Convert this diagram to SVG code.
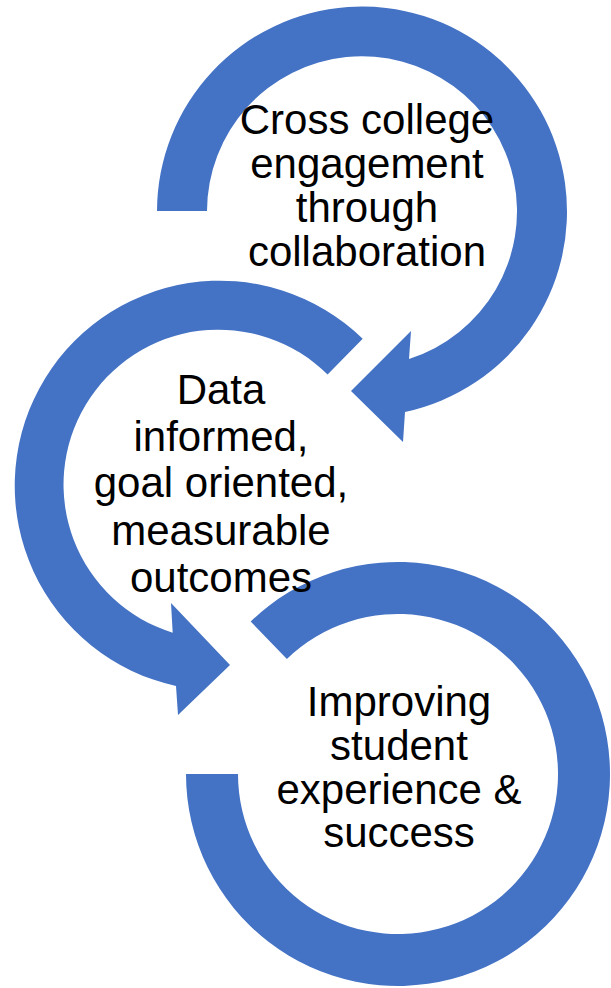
<svg xmlns="http://www.w3.org/2000/svg" width="611" height="988" viewBox="0 0 611 988">
<style>
.arr{fill:#4472C4;stroke:none}
.lbl{font-family:"Liberation Sans",Arial,sans-serif;font-size:42px;fill:#000;text-anchor:middle}
</style>
<rect width="611" height="988" fill="#fff"/>
<g id="connectors"></g>
<g id="node3">
<path class="arr" d="M 250.7 621.5 A 212 212 0 1 1 186 774 L 238 774 A 160 160 0 1 0 286.9 658.9 Z"/>
<text class="lbl" x="399" y="716">Improving</text>
<text class="lbl" x="399" y="760">student</text>
<text class="lbl" x="399" y="804">experience &amp;</text>
<text class="lbl" x="399" y="847">success</text>
</g>
<g id="node2">
<path class="arr" d="M 362.7 338.8 A 205 205 0 1 0 176 686 L 178 715 L 230 665 L 171 603 L 172.7 632.7 A 155 155 0 1 1 327.6 374.5 Z"/>
<text class="lbl" x="221" y="404">Data</text>
<text class="lbl" x="221" y="451">informed,</text>
<text class="lbl" x="221" y="497">goal oriented,</text>
<text class="lbl" x="221" y="545">measurable</text>
<text class="lbl" x="221" y="592">outcomes</text>
</g>
<g id="node1">
<path class="arr" d="M 157 211 A 205 205 0 1 1 405 412 L 403 442 L 351 391 L 411 331 L 409 359 A 155 155 0 1 0 207 211 Z"/>
<text class="lbl" x="367" y="134">Cross college</text>
<text class="lbl" x="367" y="178">engagement</text>
<text class="lbl" x="367" y="222">through</text>
<text class="lbl" x="367" y="266">collaboration</text>
</g>
</svg>
